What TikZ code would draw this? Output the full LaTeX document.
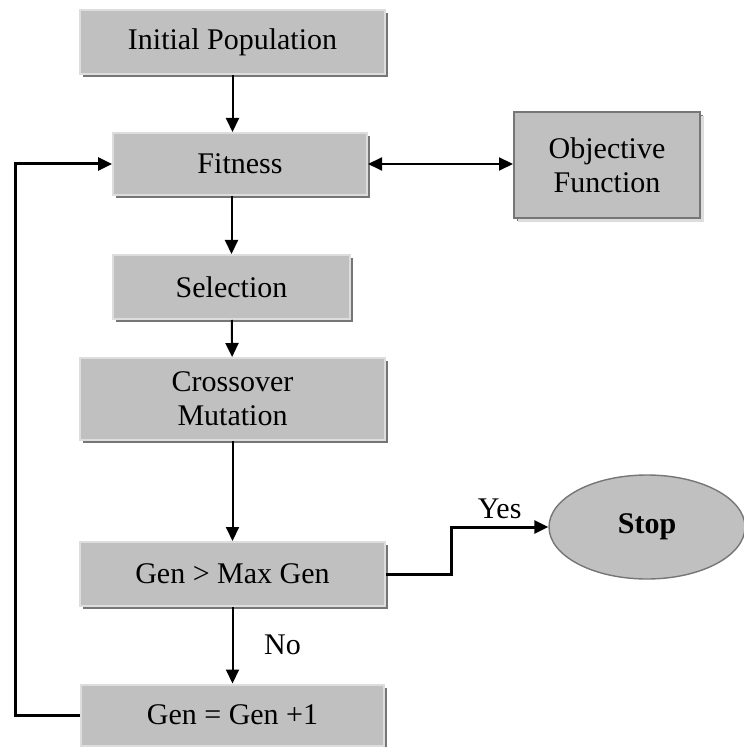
\documentclass[tikz,border=0pt]{standalone}
\usepackage{fontspec}
\setmainfont{Liberation Serif}
\usepackage{tikz}
\usetikzlibrary{arrows.meta}
\usetikzlibrary{shapes.geometric}
\usetikzlibrary{shadows}
\definecolor{boxgray}{RGB}{192,192,192}
\definecolor{boxlight}{RGB}{221,221,221}
\definecolor{boxdark}{RGB}{118,118,118}
\tikzset{
	% Two node styles for the flow chart: raised boxes and the end oval
	box/.style={rectangle,fill=boxgray,draw=boxlight,line width=1pt,align=center,
		drop shadow={shadow xshift=1.5pt,shadow yshift=-1.5pt,fill=boxdark,opacity=1}},
	sunken box/.style={box,draw=boxdark,
		drop shadow={shadow xshift=2pt,shadow yshift=-2pt,fill=boxlight,opacity=1}},
	end node/.style={ellipse,fill=boxgray,draw=boxdark,line width=0.7pt,
		minimum width=98pt,minimum height=52pt,font=\fontsize{15}{17}\selectfont\bfseries},
	flow/.style={line width=1pt,-{Triangle[length=7pt,width=6.5pt]}}
}

\begin{document}
\begin{tikzpicture}[x=0.5pt,y=-0.5pt,font=\fontsize{15}{17}\selectfont]
			\useasboundingbox (0,0) rectangle (743,747);
			
			% Main column of steps
			\node(init)[box,minimum width=152.5pt,minimum height=32pt] at (232.5,42) {Initial Population};
			\node(fit)[box,minimum width=127pt,minimum height=31pt] at (240,164) {Fitness};
			\node(obj)[sunken box,minimum width=93pt,minimum height=53pt] at (607,165) {Objective\\Function};
			\node(sel)[box,minimum width=118.5pt,minimum height=32pt] at (231.5,287) {Selection};
			\node(cross)[box,minimum width=152.5pt,minimum height=41pt] at (232.5,399) {Crossover\\Mutation};
			\node(test)[box,minimum width=152.5pt,minimum height=32pt] at (232.5,574) {Gen > Max Gen};
			\node(inc)[box,minimum width=151.5pt,minimum height=30.5pt] at (232.5,715) {Gen = Gen +1};
			\node(stop)[end node] at (647,527) {Stop};
			
			% Connectors
			\draw[flow] (init) -- (init |- fit.north);
			\draw[flow] (sel |- fit.south) -- (sel);
			\draw[flow] (sel) -- (cross);
			\draw[flow] (cross) -- (test);
			\draw[flow] (test) -- node[right,xshift=12pt]{No} (inc);
			\draw[flow,{Triangle[length=7pt,width=6.5pt]}-{Triangle[length=7pt,width=6.5pt]}] (fit.east) -- (fit.east -| obj.west);
			\draw[flow,line width=1.5pt] (inc.west) -- ++(-65,0) |- (fit.west);
			\draw[flow,line width=1.5pt] (test.east) -- ++(65,0) |- node[pos=0.75,above]{Yes} (stop.west);
		\end{tikzpicture}
\end{document}
